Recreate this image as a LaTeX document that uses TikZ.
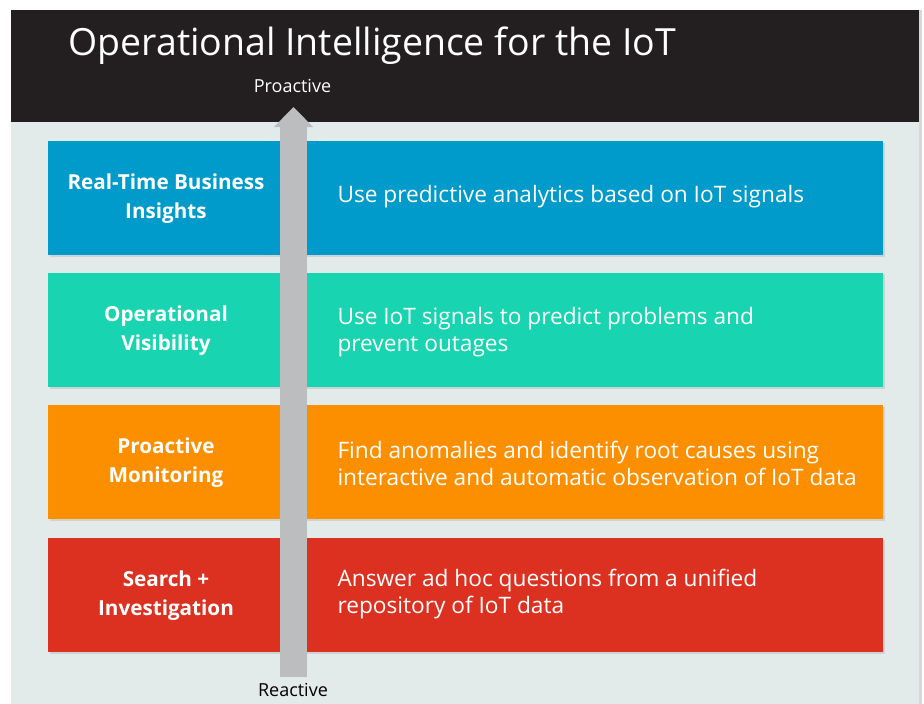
\documentclass[tikz,border=0pt]{standalone}
\usepackage{fontspec}
\setmainfont{Open Sans}
\usetikzlibrary{arrows.meta,shadows}

\definecolor{barblack}{RGB}{35,31,32}
\definecolor{slidebg}{RGB}{227,235,234}
\definecolor{tierblue}{RGB}{0,154,203}
\definecolor{tierteal}{RGB}{24,212,176}
\definecolor{tierorange}{RGB}{251,143,0}
\definecolor{tierred}{RGB}{220,49,33}
\definecolor{arrowgray}{RGB}{188,189,191}

\tikzset{every picture/.style={line width=0.75pt}}
\tikzset{
  tier/.style={fill=#1, draw=none, inner sep=0pt, minimum width=626.25pt, minimum height=85.5pt,
    drop shadow={shadow xshift=1.5pt, shadow yshift=-1.5pt, opacity=0.22}},
  tiername/.style={text=white, inner sep=0pt, align=center, font=\fontsize{15.5}{21.75}\selectfont\bfseries},
  tiertext/.style={text=white, inner sep=0pt, anchor=west, align=left, font=\fontsize{17}{20.25}\selectfont},
  axislabel/.style={text=#1, inner sep=0pt, font=\fontsize{13.5}{16}\selectfont},
}

\begin{document}
\begin{tikzpicture}[x=0.75pt,y=0.75pt,yscale=-1,xscale=1]
\useasboundingbox (0,0) rectangle (924,703);

% slide and title bar
\fill[white] (0,0) rectangle (924,703);
\fill[slidebg, drop shadow={shadow xshift=2pt, shadow yshift=0pt, opacity=0.3}] (11,10) rectangle (919,710);
\fill[barblack] (11,10) rectangle (919,122);
\node[anchor=west, inner sep=0pt, text=white, font=\fontsize{28.1}{34}\selectfont] (title) at (68,46) {Operational Intelligence for the IoT};

% tiers
\node[tier=tierblue] (insights) at (465.5,198) {};
\node[tier=tierteal] (visibility) at (465.5,330) {};
\node[tier=tierorange] (monitoring) at (465.5,462) {};
\node[tier=tierred] (search) at (465.5,595) {};

% tier names
\node[tiername] (insightsname) at (166,199) {Real-Time Business\\Insights};
\node[tiername] (visibilityname) at (166,331) {Operational\\Visibility};
\node[tiername] (monitoringname) at (166,463) {Proactive\\Monitoring};
\node[tiername] (searchname) at (166,596) {Search +\\Investigation};

% tier descriptions
\node[tiertext] (insightstext) at (337,197) {Use predictive analytics based on IoT signals};
\node[tiertext] (visibilitytext) at (337,332) {Use IoT signals to predict problems and\\prevent outages};
\node[tiertext] (monitoringtext) at (337,463) {Find anomalies and identify root causes using\\interactive and automatic observation of IoT data};
\node[tiertext] (searchtext) at (337,594) {Answer ad hoc questions from a unified\\repository of IoT data};

% reactive -> proactive axis
\node[axislabel=white] (proactive) at (292.5,86) {Proactive};
\node[axislabel=black] (reactive) at (293,690) {Reactive};
\coordinate (foot) at (293.5,677);
\coordinate (tip) at (293.5,107);
\draw[arrowgray, line width=20.25pt, -{Triangle[width=28.5pt,length=15pt]}] (foot) -- (tip);

\end{tikzpicture}
\end{document}
